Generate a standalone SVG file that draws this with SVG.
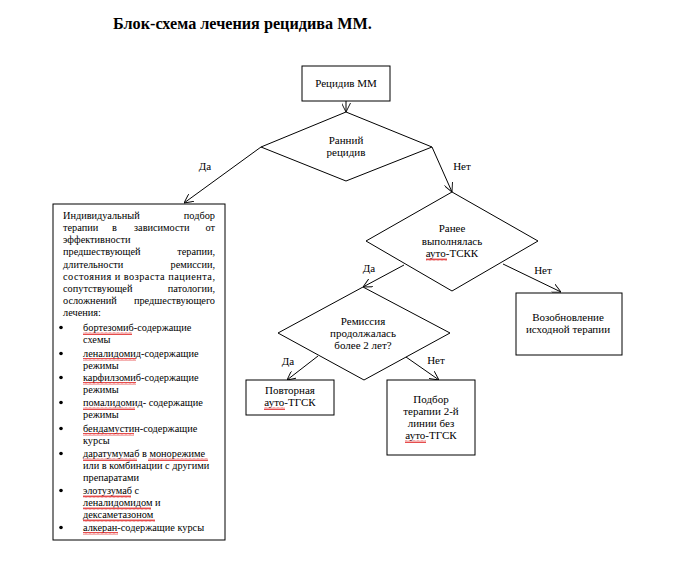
<svg xmlns="http://www.w3.org/2000/svg" width="677" height="575" viewBox="0 0 677 575">
<style>
text{font-family:"Liberation Serif","Times New Roman",serif;font-size:11px;fill:#000}
.s{font-size:10.3px}
.c{text-anchor:middle}
.e{text-anchor:end}
.t{font-size:16.2px;font-weight:bold}
.n{fill:#fff;stroke:#000;stroke-width:1}
.l{fill:none;stroke:#000;stroke-width:1;marker-end:url(#ah)}
.w{fill:url(#wavy)}
</style>
<defs>
<marker id="ah" viewBox="0 0 10 10" refX="10" refY="5" markerWidth="9" markerHeight="9" orient="auto" markerUnits="userSpaceOnUse">
<path d="M0,0 L10,5 L0,10" fill="none" stroke="#000" stroke-width="1"/>
</marker>
<pattern id="wavy" width="4" height="3" patternUnits="userSpaceOnUse">
<path d="M0,2.5 L1,0.5 L2,2.5 L3,0.5 L4,2.5" fill="none" stroke="#e02020" stroke-width="0.8"/>
</pattern>
</defs>
<rect width="677" height="575" fill="#fff"/>
<text class="t" x="113" y="29">Блок-схема лечения рецидива ММ.</text>

<g id="connectors">
<line class="l" x1="346" y1="101" x2="346" y2="112"/>
<line class="l" x1="261" y1="147" x2="184" y2="203"/>
<line class="l" x1="432" y1="147" x2="452" y2="192"/>
<line class="l" x1="404" y1="265" x2="363" y2="287"/>
<line class="l" x1="503" y1="264" x2="561" y2="292"/>
<line class="l" x1="318" y1="356" x2="287" y2="380"/>
<line class="l" x1="406" y1="357" x2="439" y2="380"/>
<text class="c" x="205" y="170">Да</text>
<text class="c" x="462" y="170">Нет</text>
<text class="c" x="369" y="272">Да</text>
<text class="c" x="543" y="274">Нет</text>
<text class="c" x="288" y="365">Да</text>
<text class="c" x="436" y="364">Нет</text>
</g>

<g id="n-start">
<rect class="n" x="302" y="66" width="88" height="35"/>
<text class="c" x="346" y="87">Рецидив ММ</text>
</g>

<g id="n-early">
<polygon class="n" points="346,112 432,147 346,181 261,147"/>
<text class="c" x="346" y="144">Ранний</text>
<text class="c" x="346" y="156">рецидив</text>
</g>

<g id="n-individual">
<rect class="n" x="53" y="204" width="172" height="336"/>
<text class="s" x="63" y="219">Индивидуальный</text><text class="s e" x="215" y="219">подбор</text>
<text class="s" x="63" y="231">терапии</text><text class="s" x="112" y="231">в</text><text class="s" x="134" y="231">зависимости</text><text class="s e" x="215" y="231">от</text>
<text class="s" x="63" y="243">эффективности</text>
<text class="s" x="63" y="255">предшествующей</text><text class="s e" x="215" y="255">терапии,</text>
<text class="s" x="63" y="268">длительности</text><text class="s e" x="215" y="268">ремиссии,</text>
<text class="s" x="63" y="280" textLength="152" lengthAdjust="spacing">состояния и возраста пациента,</text>
<text class="s" x="63" y="292">сопутствующей</text><text class="s e" x="215" y="292">патологии,</text>
<text class="s" x="63" y="304">осложнений</text><text class="s e" x="215" y="304">предшествующего</text>
<text class="s" x="63" y="316">лечения:</text>
<g>
<circle cx="61" cy="327.5" r="1.8"/>
<circle cx="61" cy="353.5" r="1.8"/>
<circle cx="61" cy="377.5" r="1.8"/>
<circle cx="61" cy="402.5" r="1.8"/>
<circle cx="61" cy="428.5" r="1.8"/>
<circle cx="61" cy="453.5" r="1.8"/>
<circle cx="61" cy="490.5" r="1.8"/>
<circle cx="61" cy="527.5" r="1.8"/>
</g>
<text class="s" x="83" y="331">бортезомиб-содержащие</text>
<text class="s" x="83" y="343">схемы</text>
<text class="s" x="83" y="357">леналидомид-содержащие</text>
<text class="s" x="83" y="369">режимы</text>
<text class="s" x="83" y="381">карфилзомиб-содержащие</text>
<text class="s" x="83" y="393">режимы</text>
<text class="s" x="83" y="406">помалидомид- содержащие</text>
<text class="s" x="83" y="418">режимы</text>
<text class="s" x="83" y="432">бендамустин-содержащие</text>
<text class="s" x="83" y="444">курсы</text>
<text class="s" x="83" y="457">даратумумаб в монорежиме</text>
<text class="s" x="83" y="469">или в комбинации с другими</text>
<text class="s" x="83" y="481">препаратами</text>
<text class="s" x="83" y="494">элотузумаб с</text>
<text class="s" x="83" y="506">леналидомидом и</text>
<text class="s" x="83" y="518">дексаметазоном</text>
<text class="s" x="83" y="531">алкеран-содержащие курсы</text>
<rect class="w" x="83" y="332" width="49" height="3"/>
<rect class="w" x="83" y="358" width="53" height="3"/>
<rect class="w" x="83" y="382" width="53" height="3"/>
<rect class="w" x="83" y="407" width="52" height="3"/>
<rect class="w" x="83" y="433" width="51" height="3"/>
<rect class="w" x="83" y="458" width="54" height="3"/>
<rect class="w" x="148" y="458" width="60" height="3"/>
<rect class="w" x="83" y="495" width="48" height="3"/>
<rect class="w" x="83" y="507" width="68" height="3"/>
<rect class="w" x="83" y="519" width="72" height="3"/>
<rect class="w" x="83" y="532" width="35" height="3"/>
</g>

<g id="n-prior">
<polygon class="n" points="452,192 538,241 452,291 366,241"/>
<text class="c" x="452" y="232">Ранее</text>
<text class="c" x="452" y="245">выполнялась</text>
<text class="c" x="452" y="257">ауто-ТСКК</text>
<rect class="w" x="426" y="258" width="21" height="3"/>
</g>

<g id="n-resume">
<rect class="n" x="516" y="293" width="106" height="62"/>
<text class="c" x="568" y="321">Возобновление</text>
<text class="c" x="568" y="333">исходной терапии</text>
</g>

<g id="n-remission">
<polygon class="n" points="363,287 450,333 364,380 278,333"/>
<text class="c" x="363" y="325">Ремиссия</text>
<text class="c" x="363" y="337">продолжалась</text>
<text class="c" x="363" y="349">более 2 лет?</text>
</g>

<g id="n-repeat">
<rect class="n" x="246" y="380" width="88" height="35"/>
<text class="c" x="290" y="394">Повторная</text>
<text class="c" x="290" y="406">ауто-ТГСК</text>
<rect class="w" x="264" y="407" width="21" height="3"/>
</g>

<g id="n-second">
<rect class="n" x="387" y="380" width="88" height="75"/>
<text class="c" x="431" y="403">Подбор</text>
<text class="c" x="431" y="415">терапии 2-й</text>
<text class="c" x="431" y="427">линии без</text>
<text class="c" x="431" y="439">ауто-ТГСК</text>
<rect class="w" x="405" y="440" width="21" height="3"/>
</g>
</svg>
